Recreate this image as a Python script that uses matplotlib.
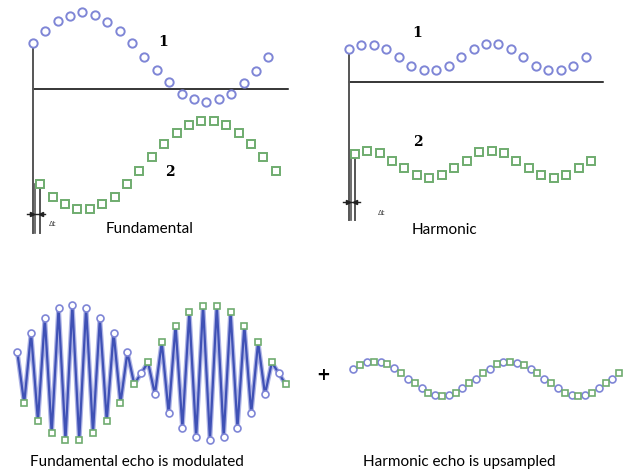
import numpy as np
import matplotlib
matplotlib.use('Agg')
import matplotlib.pyplot as plt

W, H = 630, 472

# ---- data (amplitudes in pixel units, +up) ----
# top-left: fundamental, echo 1 (circles) and echo 2 (squares, delayed by dt)
fund_1 = [46.6, 58.6, 68.0, 73.6, 77.0, 74.6, 67.3, 58.0, 46.0, 32.0,
          19.3, 7.0, -4.7, -10.0, -13.0, -10.0, -4.7, 6.6, 18.6, 32.6]
fund_2 = [-95.0, -107.4, -114.7, -119.7, -119.7, -115.0, -107.4, -95.0, -81.7, -68.0,
          -54.7, -44.0, -36.0, -31.7, -31.4, -35.7, -44.0, -54.7, -68.0, -81.7]
fund_dt = 0.6

# top-right: harmonic
harm_1 = [32.4, 36.7, 36.7, 32.4, 24.4, 16.0, 11.7, 11.7, 16.0, 24.4,
          32.4, 37.4, 37.4, 32.4, 24.4, 16.0, 11.7, 11.7, 16.0, 24.4]
harm_2 = [-72.3, -69.3, -71.6, -79.0, -86.6, -93.3, -96.6, -93.3, -86.6, -79.0,
          -70.6, -69.3, -71.6, -79.0, -86.6, -93.3, -96.6, -93.3, -86.6, -79.0]
harm_dt = 0.45

# bottom-left: fundamental echo (interleaved samples, even=echo 1, odd=echo 2)
fund_echo = [20.2, -30.8, 39.8, -48.5, 54.2, -60.8, 64.8, -67.5, 67.5, -67.5,
             64.8, -60.2, 54.2, -48.5, 39.8, -30.8, 20.2, -11.8, -0.8, 10.2,
             -21.8, 30.2, -40.8, 46.8, -55.2, 60.2, -64.2, 66.8, -67.5, 66.8,
             -64.2, 60.2, -55.2, 46.8, -40.8, 30.2, -21.8, 10.2, -0.8, -11.8]

# bottom-right: harmonic echo (interleaved samples)
harm_echo = [9.6, 13.9, 16.6, 17.2, 16.6, 14.6, 10.6, 5.6, -0.1, -4.4,
             -9.4, -13.8, -16.1, -17.1, -16.1, -13.8, -9.4, -4.4, -0.1, 5.6,
             9.6, 14.6, 16.6, 17.2, 16.2, 13.9, 9.6, 5.6, -0.4, -4.4,
             -9.4, -13.8, -16.1, -17.1, -16.1, -13.8, -9.4, -4.4, -0.1, 5.6]

captions = ['Fundamental', 'Harmonic',
            'Fundamental echo is modulated', 'Harmonic echo is upsampled']

CIRC = '#7f86d6'
SQR = '#6fac6f'
LINE = '#3f51b5'
GREY = '#555555'
FONT = ['Lato', 'DejaVu Sans']

fig = plt.figure(figsize=(W/100, H/100), dpi=100)


def panel(left, top, right, bottom, ox, oy, sx, sy=1.0):
    ax = fig.add_axes([left/W, 1-bottom/H, (right-left)/W, (bottom-top)/H])
    ax.set_xlim((left-ox)/sx, (right-ox)/sx)
    ax.set_ylim((oy-bottom)/sy, (oy-top)/sy)
    ax.axis('off')
    return ax


def ftext(x, y, s, **kw):
    fig.text(x/W, 1-y/H, s, **kw)


def sampled(ax, e1, e2, dt, base_end, bottom, arrow_y, ms=6):
    n = np.arange(len(e1))
    ax.plot([0, base_end], [0, 0], color='black', lw=1.1, zorder=1)
    ax.plot([0, 0], [e1[0], bottom], color=GREY, lw=1.4, zorder=1)
    ax.plot([0.2, 0.2], [e2[0], bottom], color=GREY, lw=1.2, zorder=1)
    ax.plot([dt, dt], [e2[0], bottom], color=GREY, lw=1.4, zorder=1)
    ax.plot([-0.48, dt+0.4], [arrow_y, arrow_y], color='#222222', lw=1.0)
    ax.plot([-0.05], [arrow_y], marker='>', ms=3, color='#222222')
    ax.plot([dt+0.05], [arrow_y], marker='<', ms=3, color='#222222')
    ax.plot(n, e1, ls='none', marker='o', ms=ms, mfc='white', mec=CIRC, mew=1.4, zorder=3)
    ax.plot(n+dt, e2, ls='none', marker='s', ms=ms, mfc='white', mec=SQR, mew=1.4, zorder=3)


# top-left
ax1 = panel(0, 0, 315, 245, 32.7, 89.3, 12.4)
sampled(ax1, fund_1, fund_2, fund_dt, 20.56, -143.7, -124.2)
ax1.text(10.5, 47.3, '1', fontsize=10, fontweight='bold', family='DejaVu Serif', ha='center', va='center')
ax1.text(11.07, -82.7, '2', fontsize=10, fontweight='bold', family='DejaVu Serif', ha='center', va='center')
ax1.text(1.65, -134.7, '\u0394t', fontsize=5, color='#444444', ha='center', va='center')

# top-right
ax2 = panel(315, 0, 630, 245, 349, 81.7, 12.45)
sampled(ax2, harm_1, harm_2, harm_dt, 20.4, -138.3, -120.0)
ax2.text(5.44, 49.0, '1', fontsize=10, fontweight='bold', family='DejaVu Serif', ha='center', va='center')
ax2.text(5.54, -60.0, '2', fontsize=10, fontweight='bold', family='DejaVu Serif', ha='center', va='center')
ax2.text(2.65, -131.3, '\u0394t', fontsize=5, color='#444444', ha='center', va='center')

# bottom-left
ax3 = panel(0, 245, 315, 472, 17.3, 372.5, 6.88)
k = np.arange(len(fund_echo))
fe = np.array(fund_echo)
ax3.plot(k, fe, color='#aeb4e6', lw=3.4, zorder=1)
ax3.plot(k, fe, color=LINE, lw=1.6, zorder=2)
ax3.plot(k[::2], fe[::2], ls='none', marker='o', ms=5, mfc='white', mec=CIRC, mew=1.2, zorder=3)
ax3.plot(k[1::2], fe[1::2], ls='none', marker='s', ms=5, mfc='white', mec=SQR, mew=1.2, zorder=3)

# bottom-right
ax4 = panel(315, 245, 630, 472, 353.3, 378.9, 6.82)
k = np.arange(len(harm_echo))
he = np.array(harm_echo)
ax4.plot(k[::2], he[::2], ls='none', marker='o', ms=5, mfc='white', mec=CIRC, mew=1.2, zorder=3)
ax4.plot(k[1::2], he[1::2], ls='none', marker='s', ms=5, mfc='white', mec=SQR, mew=1.2, zorder=3)

ftext(323, 375, '+', fontsize=12, fontweight='bold', ha='center', va='center')

ftext(150, 229, captions[0], fontsize=11, family=FONT, ha='center', va='center')
ftext(444, 230, captions[1], fontsize=11, family=FONT, ha='center', va='center')
ftext(137, 462, captions[2], fontsize=11, family=FONT, ha='center', va='center')
ftext(459, 462, captions[3], fontsize=11, family=FONT, ha='center', va='center')

fig.savefig('out.png', dpi=100)
